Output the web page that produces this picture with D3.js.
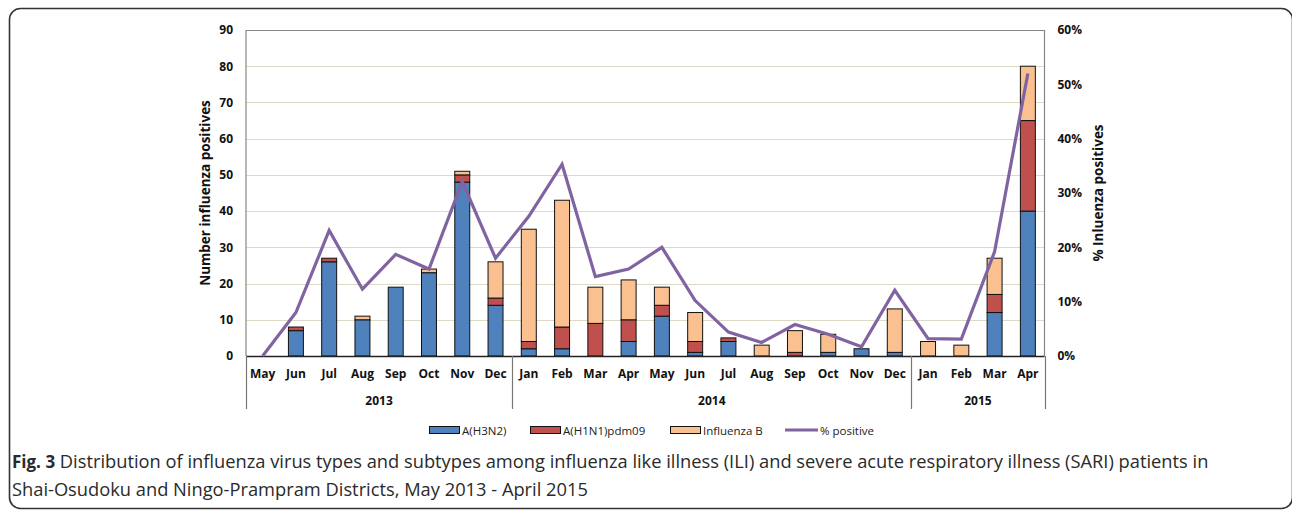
<!DOCTYPE html>
<html>
<head>
<meta charset="utf-8">
<script src="https://cdn.jsdelivr.net/npm/d3@7"></script>
<style>
  html, body { margin: 0; padding: 0; background: #fff; }
  svg { display: block; }
</style>
</head>
<body>
<svg id="chart" width="1292" height="511"></svg>
<script>
// ---- data ----
const months = ["May","Jun","Jul","Aug","Sep","Oct","Nov","Dec",
                "Jan","Feb","Mar","Apr","May","Jun","Jul","Aug","Sep","Oct","Nov","Dec",
                "Jan","Feb","Mar","Apr"];
const yearLabels = ["2013", "2014", "2015"];
const yearSpans = [8, 12, 4];
const h3n2 = [0, 7, 26, 10, 19, 23, 48, 14, 2, 2, 0, 4, 11, 1, 4, 0, 0, 1, 2, 1, 0, 0, 12, 40];
const h1n1 = [0, 1, 1, 0, 0, 0, 2, 2, 2, 6, 9, 6, 3, 3, 1, 0, 1, 0, 0, 0, 0, 0, 5, 25];
const fluB = [0, 0, 0, 1, 0, 1, 1, 10, 31, 35, 10, 11, 5, 8, 0, 3, 6, 5, 0, 12, 4, 3, 10, 15];
const pctPositive = [0, 8.0, 23.1, 12.3, 18.7, 16.0, 32.1, 18.0, 25.7, 35.3, 14.6, 16.0, 20.0,
                     10.2, 4.4, 2.5, 5.8, 4.0, 1.7, 12.1, 3.2, 3.1, 19.2, 52.0];
const leftTicks = [0, 10, 20, 30, 40, 50, 60, 70, 80, 90];
const rightTicks = [0, 10, 20, 30, 40, 50, 60];
const seriesNames = ["A(H3N2)", "A(H1N1)pdm09", "Influenza B", "% positive"];
const seriesColors = ["#4F81BD", "#C0504D", "#FAC090", "#8064A2"];

// ---- layout ----
const svg = d3.select("#chart");
const plot = { left: 246, right: 1044.5, top: 30, bottom: 356 };
const FONT = "'Open Sans', 'Liberation Sans', sans-serif";

// frame
svg.append("rect")
  .attr("x", 9.5).attr("y", 8.5).attr("width", 1283).attr("height", 500)
  .attr("rx", 11).attr("ry", 11)
  .attr("fill", "none").attr("stroke", "#333").attr("stroke-width", 1.6);

const keys = months.map((m, i) => i);
const x = d3.scaleBand().domain(keys).range([plot.left, plot.right]).paddingInner(0.55).paddingOuter(0.275);
const y = d3.scaleLinear().domain([0, 90]).range([plot.bottom, plot.top]);
const yR = d3.scaleLinear().domain([0, 60]).range([plot.bottom, plot.top]);

// gridlines
svg.append("g").selectAll("line").data(leftTicks.filter(t => t > 0 && t < 90)).join("line")
  .attr("x1", plot.left).attr("x2", plot.right)
  .attr("y1", d => Math.round(y(d)) + 0.5).attr("y2", d => Math.round(y(d)) + 0.5)
  .attr("stroke", "#DDD9C4").attr("stroke-width", 1.2);

// plot border (top + right + left)
svg.append("path")
  .attr("d", `M${plot.left},${plot.bottom} V${plot.top + 0.5} H${plot.right} V${plot.bottom}`)
  .attr("fill", "none").attr("stroke", "#868686").attr("stroke-width", 1.2);

// stacked bars
const table = keys.map(i => ({ i, h3n2: h3n2[i], h1n1: h1n1[i], fluB: fluB[i] }));
const stack = d3.stack().keys(["h3n2", "h1n1", "fluB"]);
const layers = stack(table);
const gBars = svg.append("g");
layers.forEach((layer, li) => {
  gBars.append("g").selectAll("rect")
    .data(layer.filter(d => d[1] - d[0] > 0))
    .join("rect")
    .attr("x", d => x(d.data.i))
    .attr("width", x.bandwidth())
    .attr("y", d => y(d[1]))
    .attr("height", d => y(d[0]) - y(d[1]))
    .attr("fill", seriesColors[li])
    .attr("stroke", "#111")
    .attr("stroke-width", 1);
});

// x axis line
svg.append("line")
  .attr("x1", plot.left).attr("x2", plot.right)
  .attr("y1", plot.bottom + 0.5).attr("y2", plot.bottom + 0.5)
  .attr("stroke", "#222").attr("stroke-width", 1.3);

// % positive line
const line = d3.line().x((d, i) => x(i) + x.bandwidth() / 2).y(d => yR(d));
svg.append("path").datum(pctPositive)
  .attr("d", line)
  .attr("fill", "none").attr("stroke", seriesColors[3]).attr("stroke-width", 3.2)
  .attr("stroke-linejoin", "miter");

// left axis
const axL = svg.append("g").attr("transform", `translate(${plot.left},0)`)
  .call(d3.axisLeft(y).tickValues(leftTicks).tickSize(0).tickPadding(13));
axL.select(".domain").remove();
axL.selectAll("text").attr("font-family", FONT).attr("font-size", 12).attr("font-weight", 700).attr("fill", "#111");

// right axis
const axR = svg.append("g").attr("transform", `translate(${plot.right},0)`)
  .call(d3.axisRight(yR).tickValues(rightTicks).tickSize(0).tickPadding(13).tickFormat(d => d + "%"));
axR.select(".domain").remove();
axR.selectAll("text").attr("font-family", FONT).attr("font-size", 12).attr("font-weight", 700).attr("fill", "#111");

// month labels
svg.append("g").selectAll("text").data(keys).join("text")
  .attr("x", d => x(d) + x.bandwidth() / 2)
  .attr("y", 378)
  .attr("text-anchor", "middle")
  .attr("font-family", FONT).attr("font-size", 12).attr("font-weight", 700).attr("fill", "#111")
  .text(d => months[d]);

// year groups
let start = 0;
const bounds = [plot.left];
yearSpans.forEach(s => { start += s; bounds.push(start < keys.length ? x(start) - x.step() * x.paddingInner() / 2 : plot.right); });
svg.append("g").selectAll("line").data(bounds).join("line")
  .attr("x1", d => Math.round(d) + 0.5).attr("x2", d => Math.round(d) + 0.5)
  .attr("y1", plot.bottom).attr("y2", 409)
  .attr("stroke", "#777").attr("stroke-width", 1.2);
svg.append("g").selectAll("text").data(yearLabels).join("text")
  .attr("x", (d, i) => (bounds[i] + bounds[i + 1]) / 2)
  .attr("y", 405)
  .attr("text-anchor", "middle")
  .attr("font-family", FONT).attr("font-size", 12).attr("font-weight", 700).attr("fill", "#111")
  .text(d => d);

// axis titles
svg.append("text")
  .attr("transform", `translate(210,${(plot.top + plot.bottom) / 2}) rotate(-90)`)
  .attr("text-anchor", "middle")
  .attr("font-family", FONT).attr("font-size", 13.5).attr("font-weight", 700).attr("fill", "#111")
  .text("Number influenza positives");
svg.append("text")
  .attr("transform", `translate(1103,${(plot.top + plot.bottom) / 2}) rotate(-90)`)
  .attr("text-anchor", "middle")
  .attr("font-family", FONT).attr("font-size", 13.5).attr("font-weight", 700).attr("fill", "#111")
  .text("% Inluenza positives");

// legend
const legendX = [429, 530, 670, 785];
const lg = svg.append("g");
seriesNames.forEach((name, i) => {
  const g = lg.append("g").attr("transform", `translate(${legendX[i]},0)`);
  if (i < 3) {
    g.append("rect").attr("x", 0.5).attr("y", 426.5).attr("width", 30).attr("height", 7)
      .attr("fill", seriesColors[i]).attr("stroke", "#111").attr("stroke-width", 1);
  } else {
    g.append("line").attr("x1", 0).attr("x2", 33).attr("y1", 430).attr("y2", 430)
      .attr("stroke", seriesColors[i]).attr("stroke-width", 3.2);
  }
  g.append("text").attr("x", i < 3 ? 33 : 35).attr("y", 434.5)
    .attr("font-family", FONT).attr("font-size", 11.5).attr("fill", "#222")
    .text(name);
});

// caption
const cap = svg.append("g").attr("font-family", FONT).attr("font-size", 18.3).attr("fill", "#2a2a2a");
const t1 = cap.append("text").attr("x", 12).attr("y", 468);
t1.append("tspan").attr("font-weight", 700).attr("font-size", 17).text("Fig. 3");
t1.append("tspan").text(" Distribution of influenza virus types and subtypes among influenza like illness (ILI) and severe acute respiratory illness (SARI) patients in");
cap.append("text").attr("x", 12).attr("y", 496)
  .text("Shai-Osudoku and Ningo-Prampram Districts, May 2013 - April 2015");
</script>
</body>
</html>
